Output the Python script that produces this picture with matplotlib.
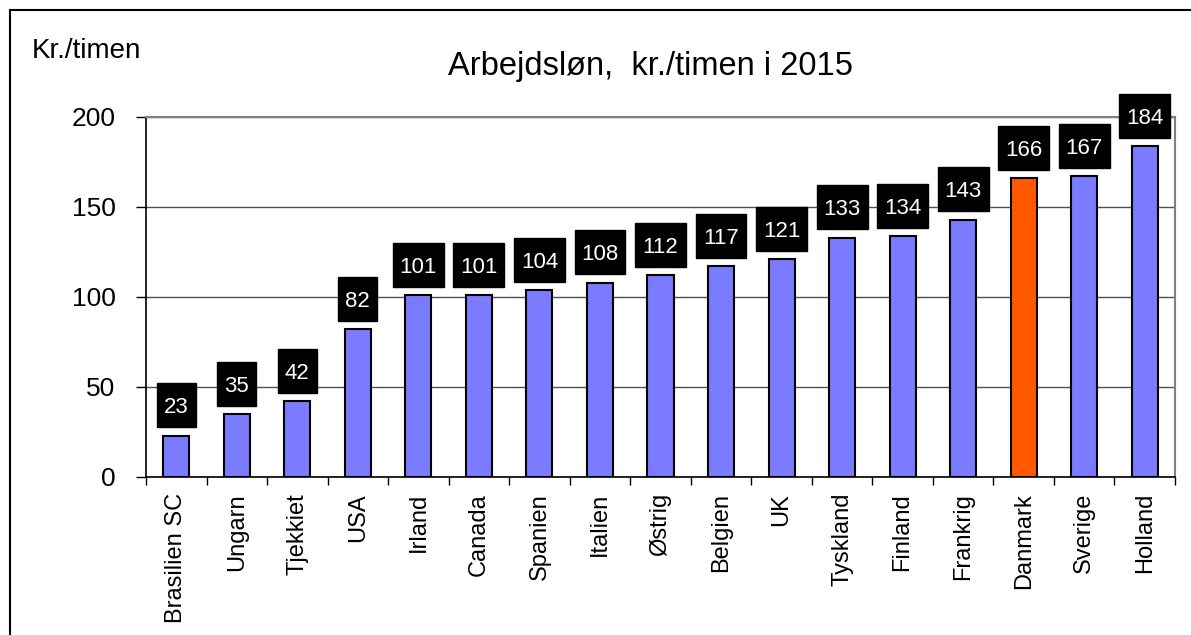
import matplotlib.pyplot as plt
from matplotlib.lines import Line2D
from matplotlib.patches import Rectangle

plt.rcParams['font.family'] = ['Liberation Sans', 'DejaVu Sans']

lande = ['Brasilien SC', 'Ungarn', 'Tjekkiet', 'USA', 'Irland', 'Canada', 'Spanien',
         'Italien', 'Østrig', 'Belgien', 'UK', 'Tyskland', 'Finland', 'Frankrig',
         'Danmark', 'Sverige', 'Holland']
loen = [23, 35, 42, 82, 101, 101, 104, 108, 112, 117, 121, 133, 134, 143, 166, 167, 184]
farver = ['#FF5800' if l == 'Danmark' else '#7B7BFF' for l in lande]

fig = plt.figure(figsize=(11.91, 6.35), dpi=100)
ax = fig.add_axes([146/1191, 1 - 477/635, (1175 - 146)/1191, (477 - 117)/635])

x = list(range(len(lande)))
ax.bar(x, loen, width=0.43, color=farver, edgecolor='black', linewidth=1.5, zorder=3)

# sorte etiketbokse over søjlerne (størrelser i dataenheder)
afstand = 4.6
boks_h = 24.4
for xi, v in zip(x, loen):
    boks_b = 0.645 if len(str(v)) < 3 else 0.84
    ax.add_patch(Rectangle((xi - boks_b / 2, v + afstand), boks_b, boks_h,
                           facecolor='black', edgecolor='black', zorder=4, clip_on=False))
    ax.text(xi, v + afstand + boks_h / 2, str(v), ha='center', va='center_baseline',
            color='white', fontsize=16, zorder=5)

ax.set_xlim(-0.5, len(lande) - 0.5)
ax.set_ylim(0, 200)
ax.set_yticks([0, 50, 100, 150, 200])
ax.yaxis.grid(True, color='#505050', linewidth=1, zorder=0)
ax.tick_params(axis='y', labelsize=19, length=7, width=1, pad=15)

ax.set_xticks(x)
ax.set_xticklabels(lande, rotation=90, fontsize=17)
ax.set_xticks([i - 0.5 for i in range(len(lande) + 1)], minor=True)
ax.tick_params(axis='x', which='major', length=0, pad=11.5)
ax.tick_params(axis='x', which='minor', length=5.5, width=1)

ax.spines['left'].set_linewidth(1.2)
ax.spines['bottom'].set_linewidth(1.2)
ax.spines['top'].set_color('#808080')
ax.spines['right'].set_color('#808080')
ax.spines['top'].set_linewidth(1.5)
ax.spines['right'].set_linewidth(1.5)

fig.text(650/1191, 1 - 75/635, 'Arbejdsløn,  kr./timen i 2015', ha='center', va='baseline', fontsize=23.5)
fig.text(32/1191, 1 - 58/635, 'Kr./timen', ha='left', va='baseline', fontsize=20)

# ramme om figuren
fig.add_artist(Line2D([10/1191, 10/1191], [0, 1 - 10/635], color='black', linewidth=1.5, transform=fig.transFigure))
fig.add_artist(Line2D([10/1191, 1], [1 - 10/635, 1 - 10/635], color='black', linewidth=1.5, transform=fig.transFigure))

fig.savefig('out.png', dpi=100)
